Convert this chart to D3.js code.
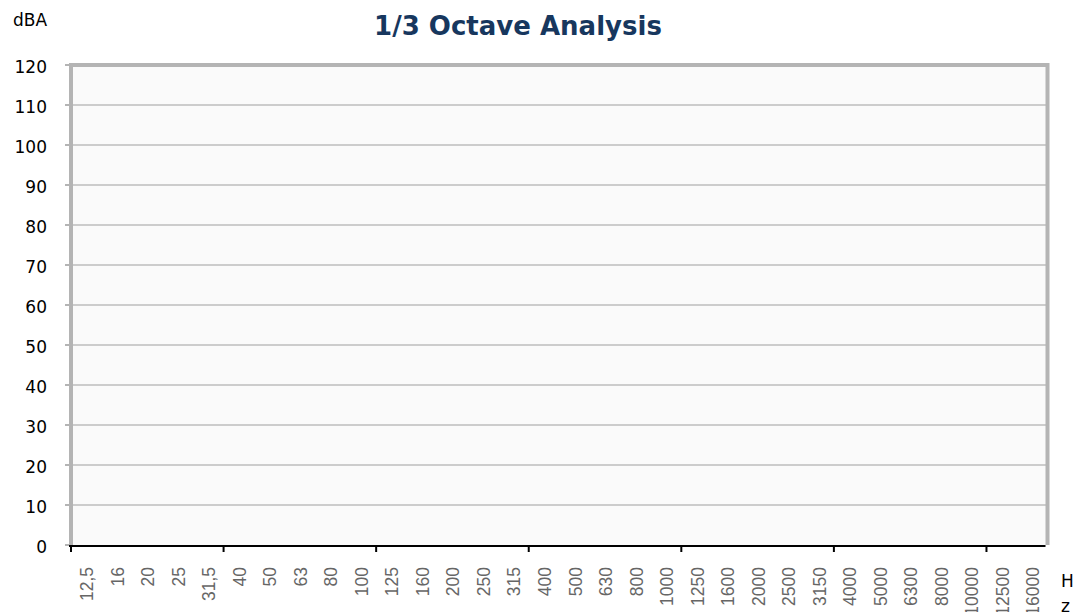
<!DOCTYPE html>
<html>
<head>
<meta charset="utf-8">
<script src="https://cdn.jsdelivr.net/npm/d3@7"></script>
<style>
  body { margin: 0; background: #fff; overflow: hidden; }
  svg { display: block; }
</style>
</head>
<body>
<script>
// 1/3 octave band centre frequencies (x categories)
const bands = ['12,5', '16', '20', '25', '31,5', '40', '50', '63', '80', '100',
    '125', '160', '200', '250', '315', '400', '500', '630', '800', '1000',
    '1250', '1600', '2000', '2500', '3150', '4000', '5000', '6300', '8000', '10000',
    '12500', '16000'];

// no measured levels are plotted in the chart
const levels = [];

const yTicks = [0, 10, 20, 30, 40, 50, 60, 70, 80, 90, 100, 110, 120];

const width = 1073,
    height = 612;

const margin = {top: 65, right: 25, bottom: 67, left: 71};

const svg = d3.select('body').append('svg')
    .attr('width', width)
    .attr('height', height);

const x = d3.scaleBand()
    .domain(bands)
    .range([margin.left, width - margin.right - 0.5]);

const y = d3.scaleLinear()
    .domain([0, 120])
    .range([height - margin.bottom, margin.top]);

// plot background
svg.append('rect')
    .attr('x', x.range()[0])
    .attr('y', y(120))
    .attr('width', x.range()[1] - x.range()[0])
    .attr('height', y(0) - y(120))
    .attr('fill', '#fafafa');

// gridlines
svg.append('g')
    .selectAll('line')
    .data(yTicks.filter(d => d > 0 && d < 120))
    .enter().append('line')
    .attr('x1', x.range()[0])
    .attr('x2', x.range()[1])
    .attr('y1', d => y(d))
    .attr('y2', d => y(d))
    .attr('stroke', '#cccccc')
    .attr('stroke-width', 2);

// y tick marks (gray)
svg.append('g')
    .selectAll('line')
    .data(yTicks)
    .enter().append('line')
    .attr('x1', x.range()[0] - 6)
    .attr('x2', x.range()[0])
    .attr('y1', d => y(d))
    .attr('y2', d => y(d))
    .attr('stroke', '#b4b4b4')
    .attr('stroke-width', 2);

// frame: left, top, right
const x0 = x.range()[0], x1 = x.range()[1];
svg.append('path')
    .attr('d', `M${x0},${y(0)}V${y(120)}H${x1}V${y(0)}`)
    .attr('fill', 'none')
    .attr('stroke', '#b4b4b4')
    .attr('stroke-width', 4);

// y labels
svg.append('g')
    .selectAll('text')
    .data(yTicks)
    .enter().append('text')
    .attr('x', 47)
    .attr('y', d => y(d) + 7.5)
    .attr('text-anchor', 'end')
    .attr('font-family', 'DejaVu Sans, Verdana, sans-serif')
    .attr('font-size', 17)
    .attr('fill', '#000')
    .text(d => d);

// x axis line
svg.append('line')
    .attr('x1', x0 - 2)
    .attr('x2', x1 - 2)
    .attr('y1', y(0) + 1)
    .attr('y2', y(0) + 1)
    .attr('stroke', '#000')
    .attr('stroke-width', 2);

// x tick marks every 5 bands
svg.append('g')
    .selectAll('line')
    .data(bands.filter((d, i) => i % 5 === 0))
    .enter().append('line')
    .attr('x1', d => x(d))
    .attr('x2', d => x(d))
    .attr('y1', y(0))
    .attr('y2', y(0) + 7)
    .attr('stroke', '#000')
    .attr('stroke-width', 2);

// x labels, rotated
svg.append('g')
    .selectAll('text')
    .data(bands)
    .enter().append('text')
    .attr('transform', d => `translate(${x(d) + x.bandwidth() / 2 + 7},567) rotate(-90)`)
    .attr('text-anchor', 'end')
    .attr('font-family', 'Liberation Sans, Arial, sans-serif')
    .attr('font-size', 17.5)
    .attr('fill', '#666')
    .text(d => d);

// unit labels
svg.append('text')
    .attr('x', 13)
    .attr('y', 26)
    .attr('font-family', 'DejaVu Sans, Verdana, sans-serif')
    .attr('font-size', 17)
    .attr('fill', '#000')
    .text('dBA');

svg.append('text')
    .attr('x', 1061)
    .attr('y', 587)
    .attr('font-family', 'DejaVu Sans, Verdana, sans-serif')
    .attr('font-size', 17)
    .attr('fill', '#000')
    .text('H');

svg.append('text')
    .attr('x', 1061)
    .attr('y', 612)
    .attr('font-family', 'DejaVu Sans, Verdana, sans-serif')
    .attr('font-size', 17)
    .attr('fill', '#000')
    .text('z');

// title
svg.append('text')
    .attr('x', 518)
    .attr('y', 35)
    .attr('text-anchor', 'middle')
    .attr('font-family', 'DejaVu Sans, Verdana, sans-serif')
    .attr('font-weight', 'bold')
    .attr('font-size', 26)
    .attr('fill', '#17375e')
    .text('1/3 Octave Analysis');
</script>
</body>
</html>
